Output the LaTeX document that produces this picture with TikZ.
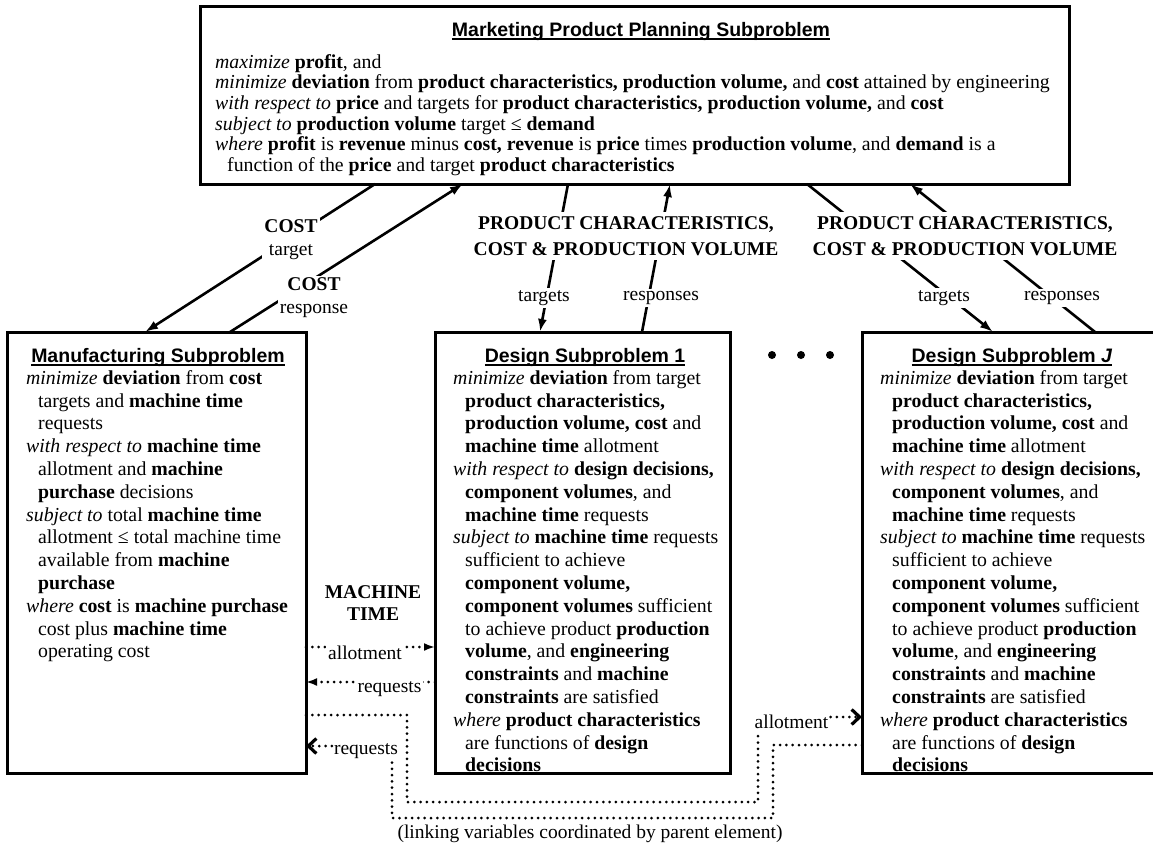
\documentclass[tikz,border=0pt]{standalone}
\usepackage{fontspec}
\setmainfont{Liberation Serif}
\setsansfont{Liberation Sans}
\usetikzlibrary{arrows.meta}

% underlined bold sans title
\newcommand{\ulsf}[1]{{\sffamily\bfseries\setbox0=\hbox{#1}\rlap{\rule[-3.6pt]{\wd0}{1.8pt}}\box0}}
% hanging indent for continuation lines
\newcommand{\indl}{\hspace*{12pt}}
% first-line strut so that baselines can be placed exactly
\newcommand{\fstrut}{\rule{0pt}{15pt}}

\newcommand{\designbody}{\fstrut\textit{minimize} \textbf{deviation} from target\\
\indl\textbf{product characteristics,}\\
\indl\textbf{production volume, cost} and\\
\indl\textbf{machine time} allotment\\
\textit{with respect to} \textbf{design decisions,}\\
\indl\textbf{component volumes}, and\\
\indl\textbf{machine time} requests\\
\textit{subject to} \textbf{machine time} requests\\
\indl sufficient to achieve\\
\indl\textbf{component volume,}\\
\indl\textbf{component volumes} sufficient\\
\indl to achieve product \textbf{production}\\
\indl\textbf{volume}, and \textbf{engineering}\\
\indl\textbf{constraints} and \textbf{machine}\\
\indl\textbf{constraints} are satisfied\\
\textit{where} \textbf{product characteristics}\\
\indl are functions of \textbf{design}\\
\indl\textbf{decisions}}

\tikzset{
  panel/.style={draw, line width=3pt, anchor=north west, inner sep=0pt, outer sep=0pt},
  body/.style={anchor=north west, inner sep=0pt, align=left, font=\fontsize{19.8pt}{22.8pt}\selectfont},
  topbody/.style={body, font=\fontsize{19.8pt}{20.6pt}\selectfont},
  title/.style={anchor=base, inner sep=0pt, font=\fontsize{19.5pt}{22pt}\selectfont},
  lab/.style={fill=white, inner sep=2pt, align=center, font=\fontsize{19.5pt}{23pt}\selectfont},
  biglab/.style={lab, inner sep=4pt, font=\fontsize{19.5pt}{26pt}\selectfont},
  conn/.style={line width=2.6pt, -{Latex[length=13pt,width=9pt]}},
  dotline/.style={line width=3pt, line cap=round, dash pattern=on 0pt off 6.3pt},
  solidtip/.style={-{Latex[length=11pt,width=8pt]}},
  barbtip/.style={-{Straight Barb[length=8pt,width=15pt,line width=3.2pt]}},
  bigdot/.style={circle, fill, inner sep=0pt, minimum size=8pt}
}

\begin{document}
\begin{tikzpicture}[x=1pt,y=-1pt]
\useasboundingbox (0,0) rectangle (1153,849);
\fill[white] (0,0) rectangle (1153,849);
\clip (0,0) rectangle (1153,849);

% ---- subproblem boxes
\node[panel, minimum width=869pt, minimum height=178pt] (mkt) at (200,6) {};
\node[panel, minimum width=299pt, minimum height=441pt] (manu) at (7,332) {};
\node[panel, minimum width=295pt, minimum height=441pt] (d1) at (435,332) {};
\node[panel, minimum width=295pt, minimum height=441pt] (dJ) at (862,332) {};

% ---- titles
\node[title] (mktT) at (641,36) {\ulsf{Marketing Product Planning Subproblem}};
\node[title] (manuT) at (158,362) {\ulsf{Manufacturing Subproblem}};
\node[title] (d1T) at (585,362) {\ulsf{Design Subproblem 1}};
\node[title] (dJT) at (1012,362) {\ulsf{Design Subproblem \textit{J}}};

% ---- box contents
\node[topbody] (mktB) at (215,53) {\fstrut\textit{maximize} \textbf{profit}, and\\
\textit{minimize} \textbf{deviation} from \textbf{product characteristics, production volume,} and \textbf{cost} attained by engineering\\
\textit{with respect to} \textbf{price} and targets for \textbf{product characteristics, production volume,} and \textbf{cost}\\
\textit{subject to} \textbf{production volume} target ≤ \textbf{demand}\\
\textit{where} \textbf{profit} is \textbf{revenue} minus \textbf{cost, revenue} is \textbf{price} times \textbf{production volume}, and \textbf{demand} is a\\
\indl function of the \textbf{price} and target \textbf{product characteristics}};

\node[body] (manuB) at (26,369) {\fstrut\textit{minimize} \textbf{deviation} from \textbf{cost}\\
\indl targets and \textbf{machine time}\\
\indl requests\\
\textit{with respect to} \textbf{machine time}\\
\indl allotment and \textbf{machine}\\
\indl\textbf{purchase} decisions\\
\textit{subject to} total \textbf{machine time}\\
\indl allotment ≤ total machine time\\
\indl available from \textbf{machine}\\
\indl\textbf{purchase}\\
\textit{where} \textbf{cost} is \textbf{machine purchase}\\
\indl cost plus \textbf{machine time}\\
\indl operating cost};

\node[body] (d1B) at (453,369) {\designbody};
\node[body] (dJB) at (880,369) {\designbody};

% ---- solid links between the marketing problem and the subproblems
\draw[conn] ([xshift=175pt]mkt.south west) -- ([xshift=138pt]manu.north west);
\draw[conn] ([xshift=223pt]manu.north west) -- ([xshift=263pt]mkt.south west);
\draw[conn] ([xshift=368pt]mkt.south west) -- ([xshift=105pt]d1.north west);
\draw[conn] ([xshift=207pt]d1.north west) -- ([xshift=470pt]mkt.south west);
\draw[conn] ([xshift=607pt]mkt.south west) -- ([xshift=131pt]dJ.north west);
\draw[conn] ([xshift=233pt]dJ.north west) -- ([xshift=710pt]mkt.south west);

% ---- machine time links (dotted)
\draw[dotline, solidtip] ([yshift=-315pt]manu.north east) -- ([yshift=-315pt]d1.north west);
\draw[dotline, solidtip] ([yshift=-350pt]d1.north west) -- ([yshift=-350pt]manu.north east);
\coordinate (in1) at (407,802);
\coordinate (in2) at (758,733);
\draw[dotline] ([yshift=-383pt]manu.north east) -| (in1) -| (in2);
\coordinate (out1) at (773,818);
\coordinate (out2) at (392,745);
\draw[dotline] ([yshift=-413pt]dJ.north west) -| (out1) -| (out2);

% ---- link labels
\node[lab] (costT) at (291,240) {\textbf{COST}\\target};
\node[lab] (costR) at (314,298) {\textbf{COST}\\response};
\node[biglab] (pcM) at (626,236) {\textbf{PRODUCT CHARACTERISTICS,}\\\textbf{COST \& PRODUCTION VOLUME}};
\node[biglab] (pcR) at (965,236) {\textbf{PRODUCT CHARACTERISTICS,}\\\textbf{COST \& PRODUCTION VOLUME}};
\node[lab] (tgM) at (544,298) {targets};
\node[lab] (rsM) at (661,298) {responses};
\node[lab] (tgR) at (944,298) {targets};
\node[lab] (rsR) at (1062,298) {responses};
\node[lab, font=\fontsize{19.5pt}{22pt}\selectfont] (mtime) at (373,603) {\textbf{MACHINE}\\\textbf{TIME}};
\node[lab] (allot1) at (365,653) {allotment};
\node[lab] (reqA) at (389.5,689) {requests};
\node[lab] (reqB) at (366,751) {requests};
\node[lab] (allotJ) at (791.5,722) {allotment};

% ---- arrows leaving the coordinated labels
\coordinate (aJ1) at ([yshift=5pt]allotJ.east);
\coordinate (aJ2) at (aJ1 -| dJ.west);
\draw[dotline, barbtip] (aJ1) -- (aJ2);
\coordinate (rB1) at ([yshift=5pt]reqB.west);
\coordinate (rB2) at (rB1 -| manu.east);
\draw[dotline, barbtip] (rB1) -- (rB2);

% ---- ellipsis between design subproblems
\node[bigdot] (e1) at (772,355) {};
\node[bigdot] (e2) at (801,355) {};
\node[bigdot] (e3) at (830,355) {};

\node[font=\fontsize{19.5pt}{22pt}\selectfont, inner sep=0pt] (note) at (590,834) {(linking variables coordinated by parent element)};
\end{tikzpicture}
\end{document}
